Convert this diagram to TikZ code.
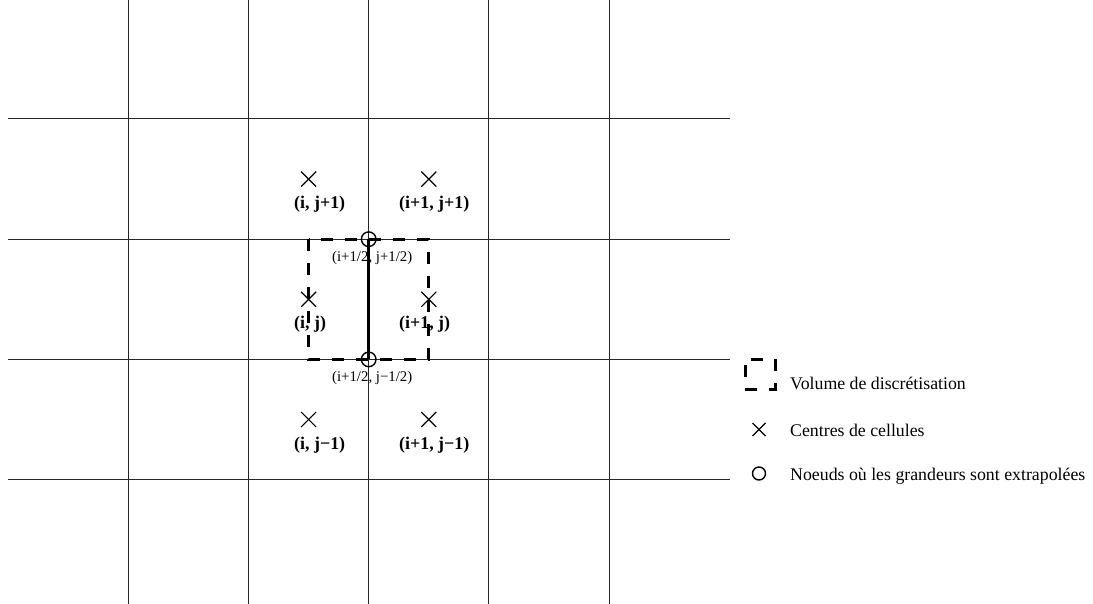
\documentclass[tikz,border=0pt]{standalone}
\usepackage{fontspec}
\setmainfont{Liberation Serif}
\usetikzlibrary{calc}
\begin{document}
\begin{tikzpicture}[x=1pt,y=-1pt,
  gridline/.style={line width=1pt,black!85},
  volume/.style={line width=3pt,dash pattern=on 12pt off 12pt,line cap=butt},
  crossmark/.style={line width=1.2pt},
  nodemark/.style={line width=1.4pt},
  biglabel/.style={inner sep=0pt,anchor=base west,font=\fontsize{17.9}{20}\selectfont\bfseries},
  smalllabel/.style={inner sep=0pt,anchor=base west,font=\fontsize{14.8}{17}\selectfont},
  legendtext/.style={inner sep=0pt,anchor=base west,font=\fontsize{17.8}{20}\selectfont}]
\useasboundingbox (0,0) rectangle (1093,604);
% grid
\foreach \x in {128.3,248.5,368.7,488.9,609.1}
  \draw[gridline] (\x,0) -- (\x,604);
\foreach \y in {119,239.2,359.4,479.6}
  \draw[gridline] (8.3,\y) -- (730,\y);
% discretisation volume
\coordinate (tl) at (308.6,239.2);
\coordinate (bl) at (308.6,359.4);
\coordinate (br) at (428.8,359.4);
\coordinate (tr) at (428.8,239.2);
\draw[volume] (tl) -- (bl) -- (br) -- (tr) -- cycle;
% nodes
\coordinate (nt) at (368.7,239.2);
\coordinate (nb) at (368.7,359.4);
\draw[line width=3pt] (nt) -- (nb);
\draw[nodemark] (nt) circle[radius=7.3];
\draw[nodemark] (nb) circle[radius=7.3];
% cell centres
\foreach \n/\x/\y in {a/308.6/179.1,b/428.8/179.1,c/308.6/299.3,d/428.8/299.3,e/308.6/419.5,f/428.8/419.5}{
  \coordinate (\n) at (\x,\y);
  \draw[crossmark] ($(\n)+(-7.5,-7.5)$) -- ($(\n)+(7.5,7.5)$);
  \draw[crossmark] ($(\n)+(-7.5,7.5)$) -- ($(\n)+(7.5,-7.5)$);
}
\node[biglabel] (la) at (294,208.6) {(i, j+1)};
\node[biglabel] (lb) at (399,208.6) {(i+1, j+1)};
\node[biglabel] (lc) at (294,328.8) {(i, j)};
\node[biglabel] (ld) at (399,328.8) {(i+1, j)};
\node[biglabel] (le) at (294,449) {(i, j−1)};
\node[biglabel] (lf) at (399,449) {(i+1, j−1)};
\node[smalllabel] (lnt) at (332,261.5) {(i+1/2, j+1/2)};
\node[smalllabel] (lnb) at (332,381.5) {(i+1/2, j−1/2)};
% legend
\draw[volume] (745,389) -- (775,389) -- (775,359) -- (745,359) -- cycle;
\node[legendtext] (t1) at (790,389) {Volume de discrétisation};
\coordinate (lx) at (759,429.5);
\draw[crossmark] ($(lx)+(-6.5,-6.5)$) -- ($(lx)+(6.5,6.5)$);
\draw[crossmark] ($(lx)+(-6.5,6.5)$) -- ($(lx)+(6.5,-6.5)$);
\node[legendtext] (t2) at (790,436) {Centres de cellules};
\coordinate (lo) at (759,473.5);
\draw[nodemark] (lo) circle[radius=6.5];
\node[legendtext] (t3) at (790,480) {Noeuds où les grandeurs sont extrapolées};
\end{tikzpicture}
\end{document}
